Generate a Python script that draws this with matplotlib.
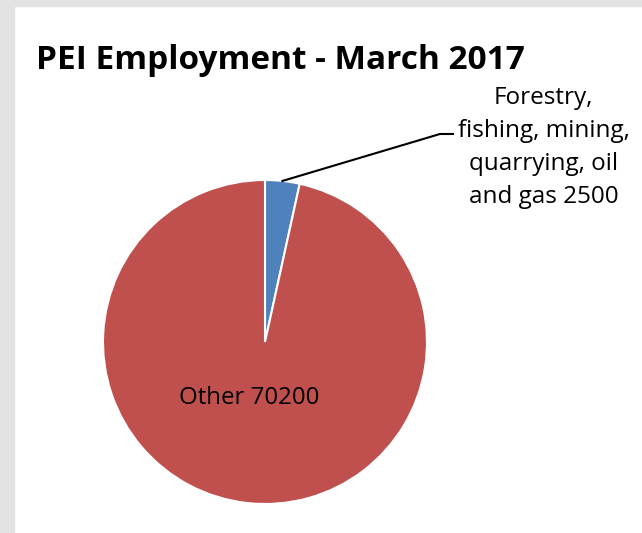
import numpy as np
import matplotlib.pyplot as plt
from matplotlib.patches import Rectangle

labels = ["Forestry,\nfishing, mining,\nquarrying, oil\nand gas 2500", "Other 70200"]
values = [2500, 70200]
colors = ["#4f81bd", "#c0504d"]

W, H = 642, 533
fig = plt.figure(figsize=(W / 100, H / 100), dpi=100)
fig.patch.set_facecolor("white")

# grey frame on top and left edge
fig.add_artist(Rectangle((0, 0), 14 / W, 1, transform=fig.transFigure, color="#e3e3e3", zorder=0))
fig.add_artist(Rectangle((0, 1 - 6 / H), 1, 6 / H, transform=fig.transFigure, color="#e3e3e3", zorder=0))

cx, cy, r = 265, 342, 162
ax = fig.add_axes([(cx - r) / W, (H - cy - r) / H, 2 * r / W, 2 * r / H])
wedges, _ = ax.pie(values, colors=colors, startangle=90, counterclock=False, radius=1,
                   wedgeprops=dict(edgecolor="white", linewidth=1.5))
ax.set_xlim(-1, 1)
ax.set_ylim(-1, 1)
ax.set_aspect("equal")
ax.axis("off")

font = "Open Sans"
fig.text(36 / W, 1 - 69 / H, "PEI Employment - March 2017", fontsize=24, fontweight="bold",
         family=font, va="baseline", ha="left")

# leader line for small slice
w = wedges[0]
mid = np.deg2rad((w.theta1 + w.theta2) / 2)
p0 = (np.cos(mid), np.sin(mid))
bend = (1.08, 1.284)
end = (1.16, 1.284)
ax.plot([p0[0], bend[0], end[0]], [p0[1], bend[1], end[1]], color="black", lw=1.5, clip_on=False)
ax.text(1.72, 1.20, labels[0], ha="center", va="center", fontsize=17.5, family=font,
        linespacing=1.5, clip_on=False)

ax.text(-0.10, -0.346, labels[1], ha="center", va="center", fontsize=17.3, family=font)

fig.savefig("out.png", dpi=100)
